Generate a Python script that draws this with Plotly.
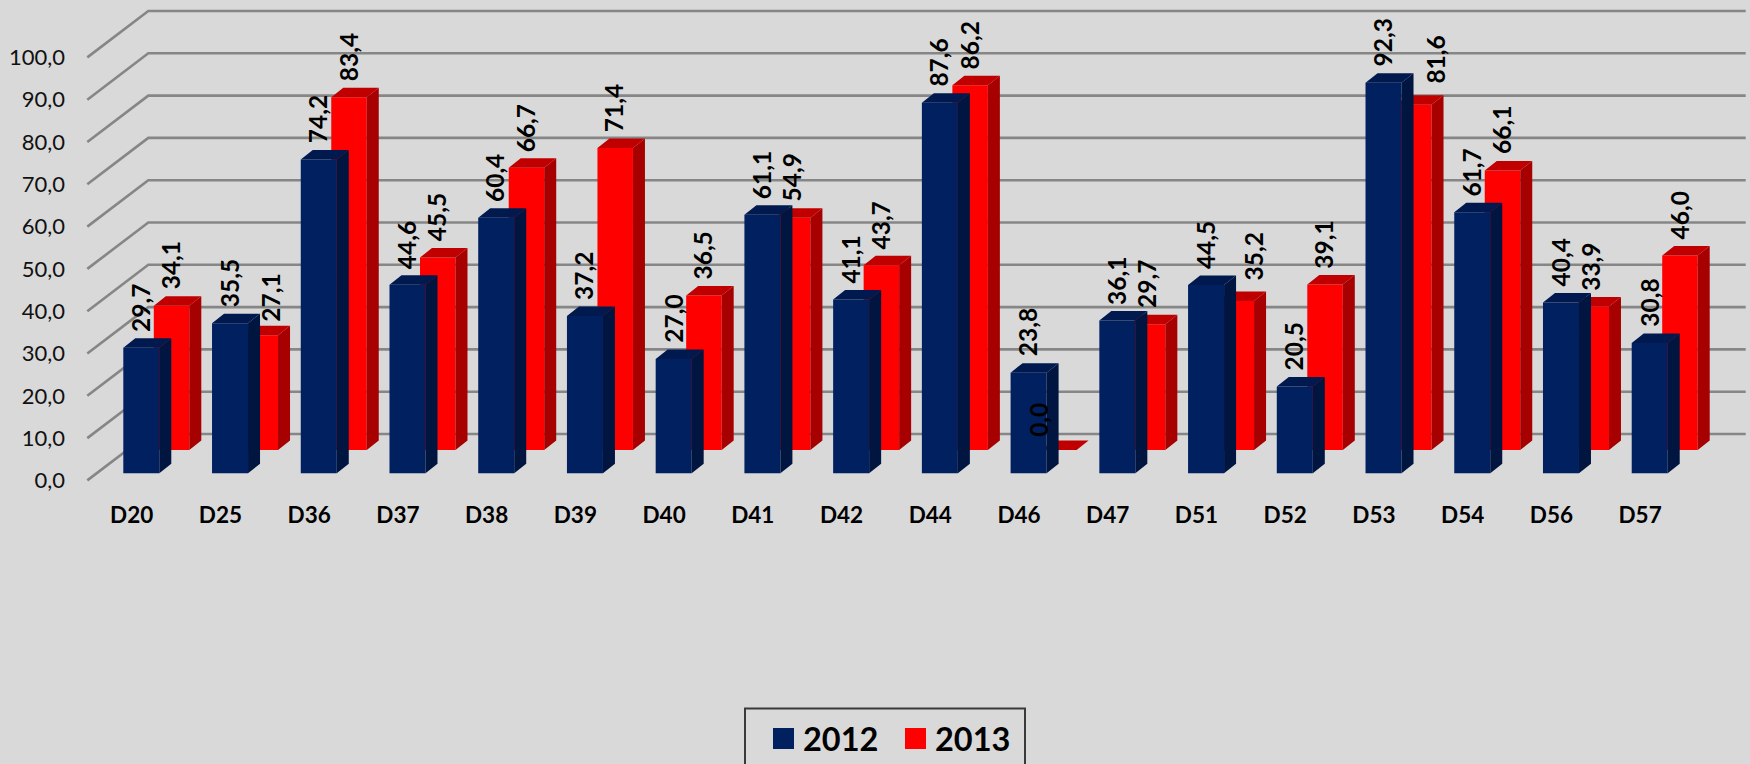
import numpy as np
import plotly.graph_objects as go

# ---- data ----
categories = ["D20", "D25", "D36", "D37", "D38", "D39", "D40", "D41", "D42",
              "D44", "D46", "D47", "D51", "D52", "D53", "D54", "D56", "D57"]
values_2012 = [29.7, 35.5, 74.2, 44.6, 60.4, 37.2, 27.0, 61.1, 41.1,
               87.6, 23.8, 36.1, 44.5, 20.5, 92.3, 61.7, 40.4, 30.8]
values_2013 = [34.1, 27.1, 83.4, 45.5, 66.7, 71.4, 36.5, 54.9, 43.7,
               86.2, 0.0, 29.7, 35.2, 39.1, 81.6, 66.1, 33.9, 46.0]
y_ticks = [0, 10, 20, 30, 40, 50, 60, 70, 80, 90, 100]

# ---- page geometry ----
W, H = 1750, 764
PX_PER_CAT = 88.73
PX_PER_UNIT = 4.23
X0_PX = 131.7      # pixel of category 0
Y0_PX = 480.4      # pixel of value 0 on the front edge of the floor
x_range = [-X0_PX / PX_PER_CAT, (W - X0_PX) / PX_PER_CAT]
y_range = [(Y0_PX - H) / PX_PER_UNIT, Y0_PX / PX_PER_UNIT]

# ---- pseudo-3D geometry, in axis units ----
GRID_FRONT_X = (87.3 - X0_PX) / PX_PER_CAT
GRID_BACK_X = (148.3 - X0_PX) / PX_PER_CAT
GRID_END_X = (1745.7 - X0_PX) / PX_PER_CAT
GRID_BACK_DY = 46.4 / PX_PER_UNIT
BAR_DX = 12 / PX_PER_CAT
BAR_DY = 9.5 / PX_PER_UNIT
BLUE = dict(center=(141.3 - X0_PX) / PX_PER_CAT, width=36 / PX_PER_CAT,
            base=(Y0_PX - 473.3) / PX_PER_UNIT,
            front="#002060", side="#00153F", top="#001A4F")
RED = dict(center=(171.55 - X0_PX) / PX_PER_CAT, width=35.5 / PX_PER_CAT,
           base=(Y0_PX - 450.0) / PX_PER_UNIT,
           front="#FF0000", side="#A60000", top="#C00000")
LABEL_GAP_PX = 14
# hand-moved labels in the original: category -> (dx px, dy px)
NUDGE_2013 = {"D25": (11, -2), "D46": (-20, -3), "D51": (18, 5), "D53": (23, 5)}

FONT = "Lato, Carlito, sans-serif"
GRID = "#868686"
BG = "#D9D9D9"


def polygons(xs, ys):
    """Join closed polygons for a fill='toself' trace."""
    px, py = [], []
    for a, b in zip(xs, ys):
        px += list(a) + [a[0], None]
        py += list(b) + [b[0], None]
    return px, py


def add_series(fig, values, style, name, xa, ya):
    v = np.array(values)
    idx = np.arange(len(v))
    xl = idx + style["center"] - style["width"] / 2
    xr = idx + style["center"] + style["width"] / 2
    b = style["base"]
    t = b + v
    fig.add_trace(go.Bar(x=idx + style["center"], y=v, base=b, width=style["width"],
                         marker=dict(color=style["front"], line=dict(width=0)),
                         name=name, showlegend=False, hoverinfo="skip",
                         xaxis=xa, yaxis=ya))
    sx, sy = polygons(
        [[r, r + BAR_DX, r + BAR_DX, r] for r in xr],
        [[b, b + BAR_DY, h + BAR_DY, h] for h in t])
    tx, ty = polygons(
        [[l, l + BAR_DX, r + BAR_DX, r] for l, r in zip(xl, xr)],
        [[h, h + BAR_DY, h + BAR_DY, h] for h in t])
    for px, py, c in ((sx, sy, style["side"]), (tx, ty, style["top"])):
        fig.add_trace(go.Scatter(x=px, y=py, mode="lines", fill="toself",
                                 fillcolor=c, line=dict(width=0, color=c),
                                 showlegend=False, hoverinfo="skip",
                                 xaxis=xa, yaxis=ya))


fig = go.Figure()

# back wall / floor gridlines
gx, gy = [], []
for tick in y_ticks:
    gx += [GRID_FRONT_X, GRID_BACK_X, GRID_END_X, None]
    gy += [tick, tick + GRID_BACK_DY, tick + GRID_BACK_DY, None]
fig.add_trace(go.Scatter(x=gx, y=gy, mode="lines", line=dict(color=GRID, width=2.6),
                         showlegend=False, hoverinfo="skip"))

add_series(fig, values_2013, RED, "2013", "x2", "y2")
add_series(fig, values_2012, BLUE, "2012", "x3", "y3")

# data labels
annotations = []
for series, style, xref, nudges in ((values_2012, BLUE, "x3", {}),
                                    (values_2013, RED, "x2", NUDGE_2013)):
    yref = xref.replace("x", "y")
    for i, (cat, val) in enumerate(zip(categories, series)):
        dx, dy = nudges.get(cat, (0, 0))
        annotations.append(dict(
            x=i + style["center"], y=style["base"] + val, xref=xref, yref=yref,
            text=f"<b>{val:.1f}</b>".replace(".", ","), textangle=-90, showarrow=False,
            xanchor="center", yanchor="bottom", xshift=dx - 1,
            yshift=LABEL_GAP_PX + dy, font=dict(family=FONT, size=24.5, color="black")))

# legend
shapes = [dict(type="rect", xref="paper", yref="paper",
               x0=745 / W, x1=1025 / W, y0=-0.2, y1=1 - 708.5 / H,
               line=dict(color="#3A3A3A", width=2), fillcolor="rgba(0,0,0,0)")]
for name, style, sx, tx in (("2012", BLUE, 773, 801), ("2013", RED, 905, 933)):
    shapes.append(dict(type="rect", xref="paper", yref="paper",
                       x0=sx / W, x1=(sx + 21) / W, y0=1 - 749 / H, y1=1 - 728 / H,
                       line=dict(width=0), fillcolor=style["front"]))
    annotations.append(dict(x=tx / W, y=1 - 738 / H, xref="paper", yref="paper",
                            text=f"<b>{name}</b>", showarrow=False, xanchor="left",
                            yanchor="middle",
                            font=dict(family=FONT, size=32.5, color="black")))

hidden = dict(visible=False, fixedrange=True)
fig.update_layout(
    width=W, height=H, margin=dict(l=0, r=0, t=0, b=0),
    paper_bgcolor=BG, plot_bgcolor=BG, barmode="overlay", showlegend=False,
    separators=", ", font=dict(family=FONT, color="black"),
    annotations=annotations, shapes=shapes,
    xaxis=dict(range=x_range, domain=[0, 1], anchor="free", position=1 - 499 / H,
               tickmode="array", tickvals=list(range(len(categories))),
               ticktext=[f"<b>{c}</b>" for c in categories], ticks="",
               showgrid=False, zeroline=False, showline=False,
               tickangle=0, tickfont=dict(family=FONT, size=22.5, color="black")),
    yaxis=dict(range=y_range, domain=[0, 1], anchor="free", position=65 / W,
               tickmode="array", tickvals=y_ticks, tickformat=".1f", ticks="",
               showgrid=False, zeroline=False, showline=False,
               tickfont=dict(family=FONT, size=22, color="#111111")),
    xaxis2=dict(range=x_range, overlaying="x", anchor="y2", **hidden),
    yaxis2=dict(range=y_range, overlaying="y", anchor="x2", **hidden),
    xaxis3=dict(range=x_range, overlaying="x", anchor="y3", **hidden),
    yaxis3=dict(range=y_range, overlaying="y", anchor="x3", **hidden),
)

fig.write_html("out.html", config={"displayModeBar": False},
               post_script="document.body.style.margin='0';document.body.style.overflow='hidden';")
